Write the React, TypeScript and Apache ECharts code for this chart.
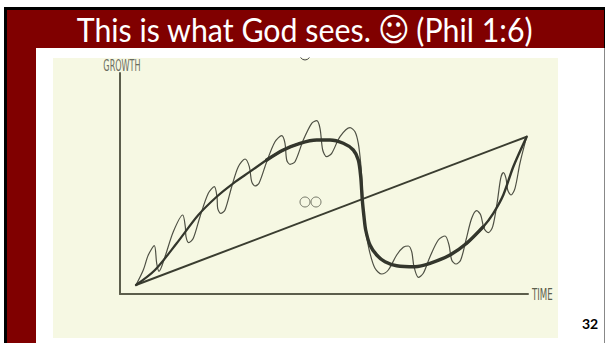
import React, { useEffect, useRef } from "react";
import * as echarts from "echarts";

const titleLead = "This is what God sees.";
const titleSmiley = "\u263A";
const titleTail = "(Phil 1:6)";
const pageNumber = "32";
const yAxisLabel = "GROWTH";
const xAxisLabel = "TIME";

// values on axes where time runs 0-408 and growth 0-221
const straightLine = [[16, 9], [406.7, 157.3]];
const thickRise = [
  [16, 9], [35, 24], [56.7, 50.7], [78.3, 79], [96.7, 97.3], [113.3, 110.7], [130, 122.3],
  [146.7, 134], [163.3, 144], [180, 150.7],
];
const thickMiddle = [
  [146.7, 134], [163.3, 144], [180, 150.7], [196.7, 154], [210, 154], [223.3, 150.7],
  [233.3, 144], [238.3, 134], [240.7, 117.3], [242.3, 94], [244, 77.3], [245.7, 64], [250, 49],
  [256.7, 39], [265, 32.3], [276.7, 28.3], [295, 27.3], [310, 30.7], [330, 39], [346.7, 50.7],
  [363.3, 67.3],
];
const thickEnd = [
  [346.7, 50.7], [363.3, 67.3], [373.3, 80.7], [383.3, 99], [393.3, 127.3], [406.7, 157.3],
];
const thinCurve = [
  [16, 9], [23.3, 24], [28.3, 39], [34.3, 48.3], [36.7, 30.7], [39, 22.7], [45, 37.3], [53.3, 62.3],
  [62.7, 79], [65.3, 67.3], [66, 57.3], [68.7, 51.3], [73.3, 55.7], [80, 77.3], [88.3, 100.7],
  [94.3, 107.3], [97, 97.3], [97.7, 85.7], [100.7, 80.7], [105, 84], [111.7, 107.3], [118.3, 127.3],
  [125, 135], [129.3, 127.3], [131.7, 112.3], [135, 108], [139, 110.7], [146.7, 132.3], [155, 152.3],
  [161.7, 158.3], [165, 150.7], [166.7, 134], [170, 129.7], [175, 132.3], [183.3, 154], [191.7, 170.7],
  [196.7, 173.3], [200, 165.7], [202.7, 144], [206.7, 137.3], [211.7, 140.7], [220, 157.3], [230, 166.3],
  [235, 162.3], [238.3, 150.7], [240.7, 130.7], [242.3, 107.3], [243.3, 84], [243.8, 74], [246, 60.7],
  [250, 40.7], [255, 25.7], [261.7, 20], [268.3, 24], [276.7, 39], [283.3, 46.7], [288.3, 48],
  [291.7, 42.3], [294, 27.3], [298.3, 16.7], [303.3, 20.7], [310, 37.3], [318.3, 54], [325, 58],
  [329, 49], [331.7, 34], [336, 30], [340.7, 34], [346, 54], [351.7, 75.7], [356.7, 83.3], [360.7, 79],
  [364, 65.7], [368.3, 61.3], [372.7, 67.3], [377.3, 92.3], [380.7, 115.7], [383.3, 121.3], [386, 115.7],
  [387.7, 104], [391, 99], [395, 105.7], [400, 131], [406.7, 157.3],
];
const ringPoints = [[185, 92], [196, 92]];

export default function App() {
  const ref = useRef<HTMLDivElement>(null);
  useEffect(() => {
    document.body.style.margin = "0";
    const chart = echarts.init(ref.current!, null, { renderer: "svg" });
    const thick = (data: number[][], width: number) => ({
      type: "line", data, smooth: 0.3, showSymbol: false,
      lineStyle: { color: "#33362c", width, cap: "round" }, z: 4,
    });
    chart.setOption({
      animation: false,
      backgroundColor: "#fff",
      grid: { left: 120, top: 73, width: 408, height: 221 },
      xAxis: {
        type: "value", min: 0, max: 408, splitLine: { show: false },
        axisTick: { show: false }, axisLabel: { show: false },
        axisLine: { show: true, onZero: false, lineStyle: { color: "#5c5e4c", width: 2 } },
      },
      yAxis: {
        type: "value", min: 0, max: 221, splitLine: { show: false },
        axisTick: { show: false }, axisLabel: { show: false },
        axisLine: { show: true, onZero: false, lineStyle: { color: "#5c5e4c", width: 2 } },
      },
      graphic: [
        { type: "rect", z: -10, shape: { x: 4, y: 7, width: 601, height: 336 }, style: { fill: "#000" } },
        { type: "rect", z: -9, shape: { x: 7, y: 10, width: 597, height: 333 }, style: { fill: "#800000" } },
        { type: "rect", z: -8, shape: { x: 36, y: 48, width: 568, height: 295 }, style: { fill: "#fff" } },
        { type: "rect", z: -8, shape: { x: 604, y: 48, width: 1, height: 295 }, style: { fill: "#888" } },
        { type: "rect", z: -7, shape: { x: 53, y: 58, width: 505, height: 280 }, style: { fill: "#f6f8e3" } },
        {
          type: "text", z: 5, x: 304.5, y: 30, scaleX: 0.92,
          style: {
            text: `{a|${titleLead}} {b|${titleSmiley}} {a|${titleTail}}`,
            fill: "#fff", align: "center", verticalAlign: "middle",
            rich: {
              a: { fill: "#fff", fontFamily: "Lato", fontSize: 33 },
              b: { fill: "#fff", fontFamily: "DejaVu Sans", fontSize: 33, padding: [0, 4, 0, 4] },
            },
          },
        },
        { type: "text", z: 5, x: 122, y: 66, scaleX: 0.6, style: { text: yAxisLabel, fill: "#6b6d60", fontFamily: "DejaVu Sans Condensed", fontSize: 15, align: "center", verticalAlign: "middle" } },
        { type: "text", z: 5, x: 532, y: 295, scaleX: 0.6, style: { text: xAxisLabel, fill: "#5c5e4c", fontFamily: "DejaVu Sans Condensed", fontSize: 16, align: "left", verticalAlign: "middle" } },
        { type: "text", z: 5, x: 590, y: 323, style: { text: pageNumber, fill: "#000", fontFamily: "Lato", fontSize: 14, fontWeight: "bold", align: "center", verticalAlign: "middle" } },
        { type: "arc", z: 5, shape: { cx: 305, cy: 55, r: 5, startAngle: 0.5, endAngle: 2.64 }, style: { stroke: "#444", fill: "none", lineWidth: 1 } },
      ],
      series: [
        { type: "line", data: thinCurve, smooth: 0.3, showSymbol: false, lineStyle: { color: "#4e5044", width: 1.2 }, z: 2 },
        { type: "line", data: straightLine, showSymbol: false, lineStyle: { color: "#3a3d30", width: 2 }, z: 3 },
        thick(thickRise, 2.2),
        thick(thickMiddle, 3.4),
        thick(thickEnd, 2.4),
        { type: "scatter", data: ringPoints, symbol: "circle", symbolSize: 10, itemStyle: { color: "transparent", borderColor: "#55574a", borderWidth: 1 }, z: 4 },
      ],
    });
    return () => chart.dispose();
  }, []);
  return <div ref={ref} style={{ width: 605, height: 343 }} />;
}
